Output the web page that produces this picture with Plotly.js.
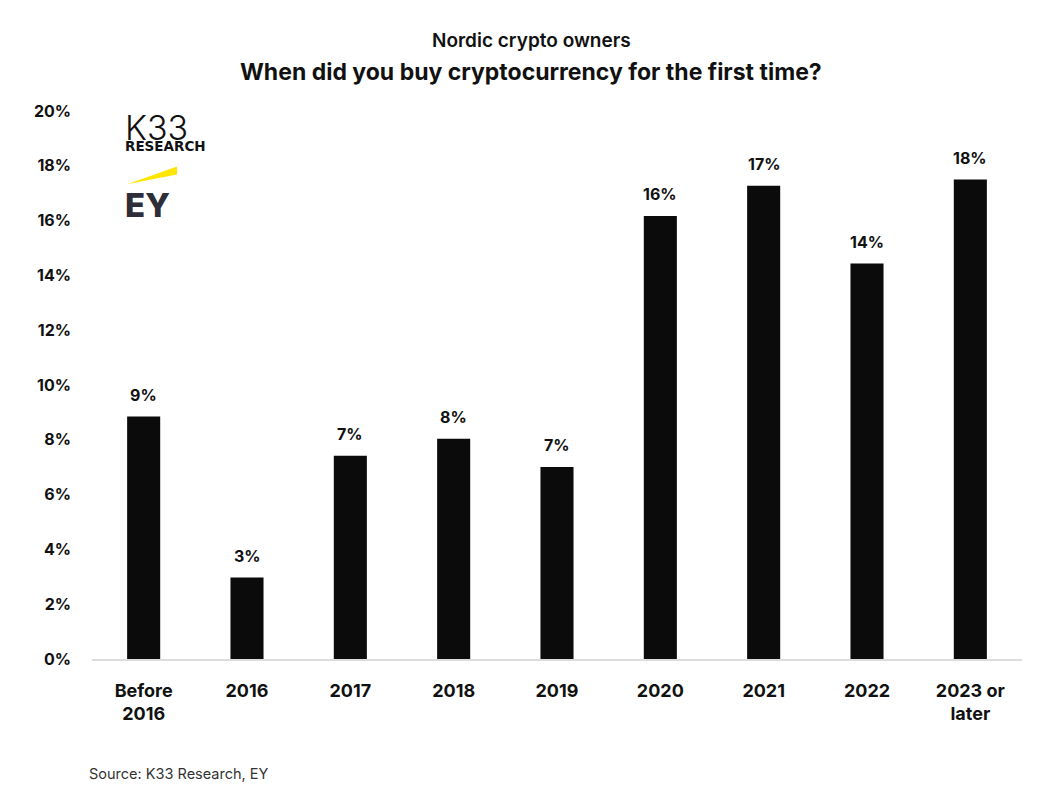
<!DOCTYPE html>
<html>
<head>
<meta charset="utf-8">
<script src="https://cdn.plot.ly/plotly-3.0.1.min.js"></script>
<style>
  html, body { margin: 0; padding: 0; background: #ffffff; }
  #chart { width: 1047px; height: 799px; }
</style>
</head>
<body>
<div id="chart"></div>
<script>
// ---- Data ----
const categories = ["Before<br>2016", "2016", "2017", "2018", "2019", "2020", "2021", "2022", "2023 or<br>later"];
const shares = [8.85, 2.97, 7.42, 8.04, 7.01, 16.17, 17.27, 14.43, 17.5];
const shareLabels = ["9%", "3%", "7%", "8%", "7%", "16%", "17%", "14%", "18%"];
const yTickValues = [0, 2, 4, 6, 8, 10, 12, 14, 16, 18, 20];
const yTickLabels = ["0%", "2%", "4%", "6%", "8%", "10%", "12%", "14%", "16%", "18%", "20%"];
const subTitle = "Nordic crypto owners";
const mainTitle = "When did you buy cryptocurrency for the first time?";
const sourceText = "Source: K33 Research, EY";

// ---- Layout helpers ----
const W = 1047, H = 799;
const plotL = 92, plotR = 1022, plotT = 110.5, plotB = 659.5;
const px = x => (x - plotL) / (plotR - plotL);
const py = y => (plotB - y) / (plotB - plotT);
const FONT = "Inter, 'Open Sans', sans-serif";
const INK = "#111111";

const trace = {
  type: "bar",
  x: categories,
  y: shares,
  marker: { color: "#0b0b0b", line: { width: 0 } },
  hoverinfo: "skip"
};

// value labels placed by category index on the category axis
const valueAnnotations = categories.map((c, i) => ({
  x: i, y: shares[i], xref: "x", yref: "y",
  text: shareLabels[i], showarrow: false,
  yanchor: "middle", yshift: 22,
  font: { family: FONT, size: 16, color: INK, weight: 700 }
}));

const logoK33 = "<span style=\"font-size:34px;font-weight:300\">K33</span><br>" +
                "<span style=\"font-size:13.5px;font-family:'DejaVu Sans';font-weight:700\">RESEARCH</span>";

const otherAnnotations = [
  { xref: "paper", yref: "paper", x: px(531), y: py(40), text: subTitle, showarrow: false,
    xanchor: "center", yanchor: "middle", font: { family: FONT, size: 19, color: INK, weight: 600 } },
  { xref: "paper", yref: "paper", x: px(531), y: py(71), text: mainTitle, showarrow: false,
    xanchor: "center", yanchor: "middle", font: { family: FONT, size: 23, color: INK, weight: 700 } },
  { xref: "paper", yref: "paper", x: px(87), y: py(774), text: sourceText, showarrow: false,
    xanchor: "left", yanchor: "middle", font: { family: FONT, size: 14.5, color: "#333333", weight: 400 } },
  // logo texts
  { xref: "paper", yref: "paper", x: px(124), y: py(155), text: logoK33, showarrow: false,
    xanchor: "left", yanchor: "bottom", align: "left", borderpad: 0,
    font: { family: FONT, size: 8.5, color: "#111111" } },
  { xref: "paper", yref: "paper", x: px(123), y: py(205), text: "EY", showarrow: false,
    xanchor: "left", yanchor: "middle", font: { family: FONT, size: 33, color: "#2e2e38", weight: 800 } }
];

const shapes = [
  { type: "path", xref: "paper", yref: "paper",
    path: `M ${px(127)} ${py(184)} L ${px(177)} ${py(166)} L ${px(177)} ${py(174)} Z`,
    fillcolor: "#ffe600", line: { width: 0 } }
];

const layout = {
  width: W, height: H,
  margin: { l: plotL, r: W - plotR, t: plotT, b: H - plotB, pad: 0 },
  paper_bgcolor: "#ffffff",
  plot_bgcolor: "#ffffff",
  showlegend: false,
  bargap: 0.68,
  font: { family: FONT, color: INK },
  xaxis: {
    type: "category",
    range: [-0.5, categories.length - 0.5],
    autorange: false,
    showgrid: false,
    zeroline: false,
    showline: true, linecolor: "#dcdcdc", linewidth: 2,
    ticks: "",
    ticklabelstandoff: 14,
    tickfont: { family: FONT, size: 18, color: INK, weight: 700 },
    fixedrange: true
  },
  yaxis: {
    range: [0, 20],
    autorange: false,
    tickvals: yTickValues,
    ticktext: yTickLabels,
    showgrid: false,
    zeroline: false,
    showline: false,
    ticks: "",
    ticklabelstandoff: 20,
    tickfont: { family: FONT, size: 16, color: INK, weight: 700 },
    fixedrange: true
  },
  annotations: valueAnnotations.concat(otherAnnotations),
  shapes: shapes
};

Plotly.newPlot("chart", [trace], layout, { displayModeBar: false, staticPlot: true });
</script>
</body>
</html>
